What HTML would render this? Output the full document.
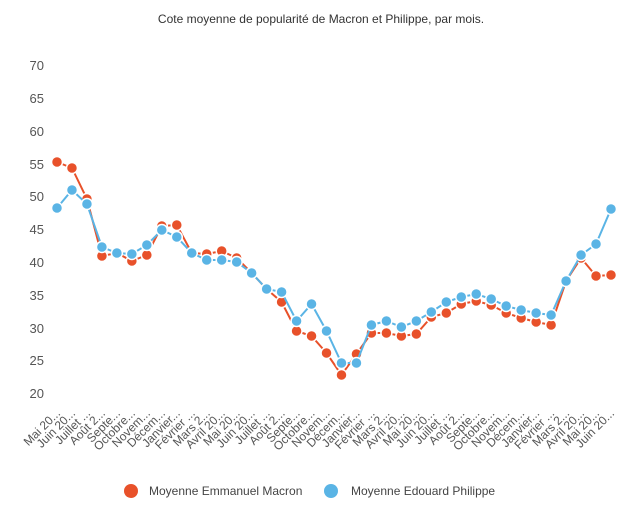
<!DOCTYPE html>
<html><head><meta charset="utf-8"><style>
body{margin:0;background:#fff;}
svg{display:block;font-family:"Liberation Sans",sans-serif;}
</style></head><body>
<svg id="s" width="642" height="509" viewBox="0 0 642 509">
<text x="321" y="23" text-anchor="middle" font-size="12" fill="#333">Cote moyenne de popularité de Macron et Philippe, par mois.</text>
<g font-size="13" fill="#555" text-anchor="end">
<text x="44" y="70">70</text><text x="44" y="103">65</text><text x="44" y="136">60</text>
<text x="44" y="169">55</text><text x="44" y="201">50</text><text x="44" y="234">45</text>
<text x="44" y="267">40</text><text x="44" y="300">35</text><text x="44" y="333">30</text>
<text x="44" y="365">25</text><text x="44" y="398">20</text>
</g>
<g id="xl" font-size="12" fill="#555" text-anchor="end"></g>
<g id="plot"></g>
<circle cx="131" cy="491" r="7" fill="#e8512a"/>
<text x="149" y="495" font-size="12" fill="#444">Moyenne Emmanuel Macron</text>
<circle cx="331" cy="491" r="7" fill="#5ab4e5"/>
<text x="351" y="495" font-size="12" fill="#444">Moyenne Edouard Philippe</text>
</svg>
<script>
var M=[162,168,199,256,253,261,255,226,225,253,254,251,258,273,289,302,331,336,353,375,354,333,333,336,334,317,313,304,301,305,313,318,322,325,281,258,276,275];
var P=[208,190,204,247,253,254,245,230,237,253,260,260,262,273,289,292,321,304,331,363,363,325,321,327,321,312,302,297,294,299,306,310,313,315,281,255,244,209];
var L=["Mai 20...","Juin 20...","Juillet ...","Août 2...","Septe...","Octobre...","Novem...","Décem...","Janvier...","Février ...","Mars 2...","Avril 20...","Mai 20...","Juin 20...","Juillet ...","Août 2...","Septe...","Octobre...","Novem...","Décem...","Janvier...","Février ...","Mars 2...","Avril 20...","Mai 20...","Juin 20...","Juillet ...","Août 2...","Septe...","Octobre...","Novem...","Décem...","Janvier...","Février ...","Mars 2...","Avril 20...","Mai 20...","Juin 20..."];
var ns="http://www.w3.org/2000/svg";
function X(i){return 57+i*554/37;}
var plot=document.getElementById("plot"),xl=document.getElementById("xl");
function series(arr,c){
 var pl=document.createElementNS(ns,"polyline");
 pl.setAttribute("points",arr.map(function(y,i){return X(i)+","+y}).join(" "));
 pl.setAttribute("fill","none");pl.setAttribute("stroke",c);pl.setAttribute("stroke-width","2");
 plot.appendChild(pl);
}
function dots(arr,c){
 arr.forEach(function(y,i){var e=document.createElementNS(ns,"circle");
 e.setAttribute("cx",X(i));e.setAttribute("cy",y);e.setAttribute("r","5.5");
 e.setAttribute("fill",c);e.setAttribute("stroke","#fff");e.setAttribute("stroke-width","1.5");plot.appendChild(e);});
}
series(M,"#e8512a");dots(M,"#e8512a");series(P,"#5ab4e5");dots(P,"#5ab4e5");
L.forEach(function(t,i){var e=document.createElementNS(ns,"text");
 var x=X(i)+4,y=414;e.setAttribute("x",x);e.setAttribute("y",y);
 e.setAttribute("transform","rotate(-45 "+x+" "+y+")");e.textContent=t;xl.appendChild(e);});
</script>
</body></html>
